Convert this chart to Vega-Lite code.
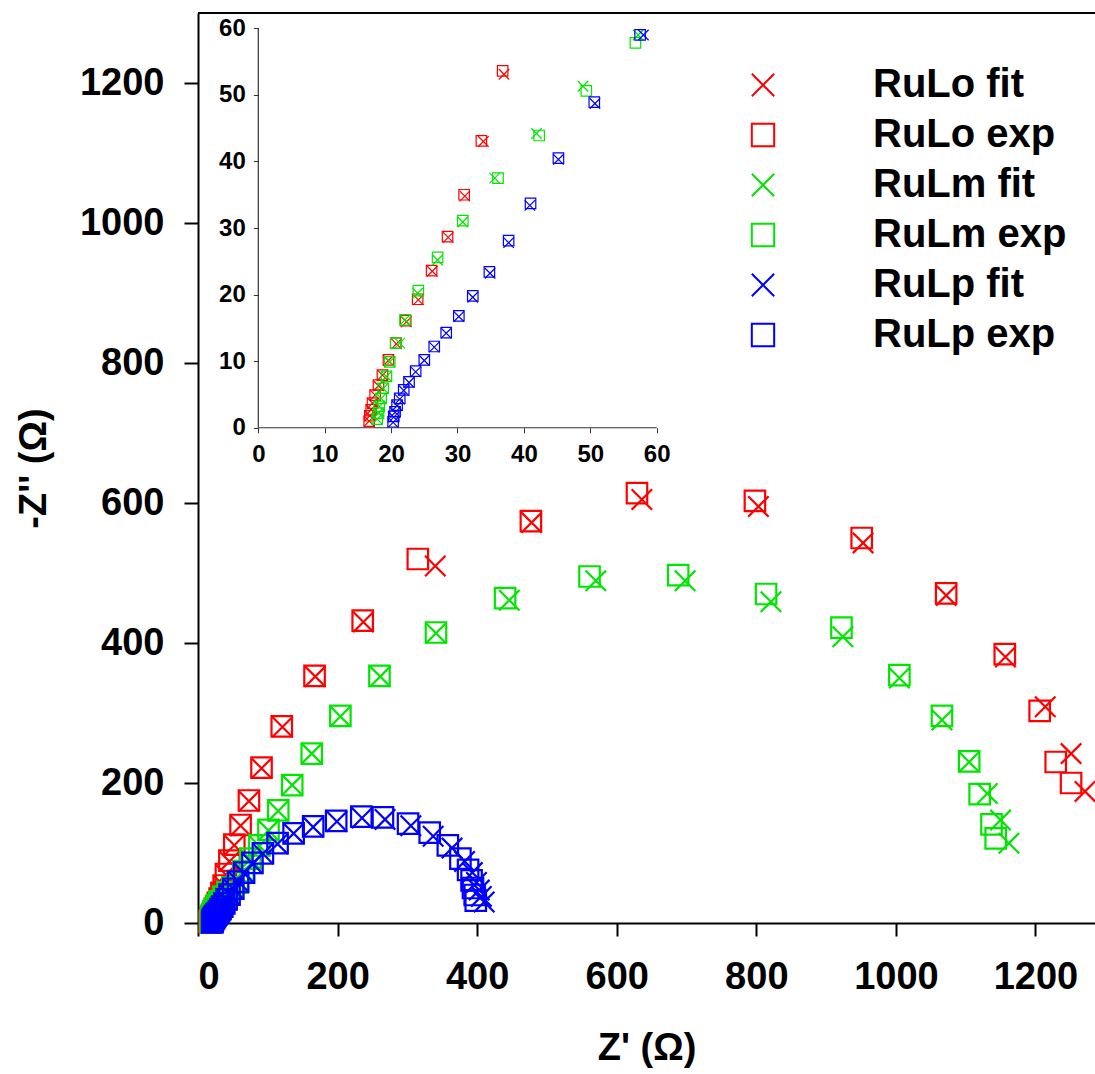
{
  "$schema": "https://vega.github.io/schema/vega-lite/v6.json",
  "autosize": {"type": "none"},
  "padding": {"left": 198, "top": 13, "right": 0, "bottom": 151},
  "width": 897,
  "height": 910,
  "background": "white",
  "config": {
    "font": "Liberation Sans",
    "view": {"stroke": null},
    "axis": {"grid": false, "labelFont": "Liberation Sans", "titleFont": "Liberation Sans", "labelColor": "black", "titleColor": "black"}
  },
  "datasets": {
    "pts": [
      {"series": "RuLo exp", "zr": 1251, "zi": 200}, {"series": "RuLo exp", "zr": 1229, "zi": 230}, {"series": "RuLo exp", "zr": 1206, "zi": 303}, {"series": "RuLo exp", "zr": 1156, "zi": 384}, {"series": "RuLo exp", "zr": 1072, "zi": 471}, {"series": "RuLo exp", "zr": 951, "zi": 550}, {"series": "RuLo exp", "zr": 798, "zi": 603}, {"series": "RuLo exp", "zr": 629, "zi": 614}, {"series": "RuLo exp", "zr": 477, "zi": 574}, {"series": "RuLo exp", "zr": 315, "zi": 520}, {"series": "RuLo exp", "zr": 236, "zi": 432}, {"series": "RuLo exp", "zr": 167, "zi": 353}, {"series": "RuLo exp", "zr": 120, "zi": 281}, {"series": "RuLo exp", "zr": 91, "zi": 222}, {"series": "RuLo exp", "zr": 73, "zi": 175}, {"series": "RuLo exp", "zr": 61, "zi": 140}, {"series": "RuLo exp", "zr": 52, "zi": 112}, {"series": "RuLo exp", "zr": 45, "zi": 89}, {"series": "RuLo exp", "zr": 40, "zi": 70},
      {"series": "RuLo exp", "zr": 36.8, "zi": 53.6}, {"series": "RuLo exp", "zr": 33.6, "zi": 43.1}, {"series": "RuLo exp", "zr": 31.0, "zi": 35.0}, {"series": "RuLo exp", "zr": 28.5, "zi": 28.7}, {"series": "RuLo exp", "zr": 26.1, "zi": 23.6}, {"series": "RuLo exp", "zr": 24.0, "zi": 19.3}, {"series": "RuLo exp", "zr": 22.2, "zi": 16.1}, {"series": "RuLo exp", "zr": 20.7, "zi": 12.7}, {"series": "RuLo exp", "zr": 19.6, "zi": 10.2}, {"series": "RuLo exp", "zr": 18.7, "zi": 7.9}, {"series": "RuLo exp", "zr": 18.1, "zi": 6.4}, {"series": "RuLo exp", "zr": 17.6, "zi": 4.9}, {"series": "RuLo exp", "zr": 17.2, "zi": 3.7}, {"series": "RuLo exp", "zr": 17.0, "zi": 2.7}, {"series": "RuLo exp", "zr": 16.8, "zi": 1.8}, {"series": "RuLo exp", "zr": 16.7, "zi": 1.0},

      {"series": "RuLo fit", "zr": 1271, "zi": 188}, {"series": "RuLo fit", "zr": 1251, "zi": 242}, {"series": "RuLo fit", "zr": 1214, "zi": 309}, {"series": "RuLo fit", "zr": 1157, "zi": 380}, {"series": "RuLo fit", "zr": 1072, "zi": 468}, {"series": "RuLo fit", "zr": 953, "zi": 543}, {"series": "RuLo fit", "zr": 803, "zi": 595}, {"series": "RuLo fit", "zr": 636, "zi": 605}, {"series": "RuLo fit", "zr": 478, "zi": 572}, {"series": "RuLo fit", "zr": 340, "zi": 510}, {"series": "RuLo fit", "zr": 237, "zi": 430}, {"series": "RuLo fit", "zr": 168, "zi": 352}, {"series": "RuLo fit", "zr": 121, "zi": 280}, {"series": "RuLo fit", "zr": 91, "zi": 221}, {"series": "RuLo fit", "zr": 73, "zi": 174}, {"series": "RuLo fit", "zr": 61, "zi": 139}, {"series": "RuLo fit", "zr": 52, "zi": 111}, {"series": "RuLo fit", "zr": 45, "zi": 88}, {"series": "RuLo fit", "zr": 40, "zi": 69},
      {"series": "RuLo fit", "zr": 37.0, "zi": 53.1}, {"series": "RuLo fit", "zr": 33.9, "zi": 43.0}, {"series": "RuLo fit", "zr": 31.1, "zi": 34.8}, {"series": "RuLo fit", "zr": 28.6, "zi": 28.6}, {"series": "RuLo fit", "zr": 26.2, "zi": 23.5}, {"series": "RuLo fit", "zr": 24.1, "zi": 19.2}, {"series": "RuLo fit", "zr": 22.3, "zi": 15.9}, {"series": "RuLo fit", "zr": 20.8, "zi": 12.6}, {"series": "RuLo fit", "zr": 19.6, "zi": 10.1}, {"series": "RuLo fit", "zr": 18.7, "zi": 7.9}, {"series": "RuLo fit", "zr": 18.1, "zi": 6.3}, {"series": "RuLo fit", "zr": 17.6, "zi": 4.9}, {"series": "RuLo fit", "zr": 17.2, "zi": 3.7}, {"series": "RuLo fit", "zr": 17.0, "zi": 2.7}, {"series": "RuLo fit", "zr": 16.8, "zi": 1.8}, {"series": "RuLo fit", "zr": 16.7, "zi": 1.0},

      {"series": "RuLm exp", "zr": 1143, "zi": 121}, {"series": "RuLm exp", "zr": 1137, "zi": 141}, {"series": "RuLm exp", "zr": 1120, "zi": 184}, {"series": "RuLm exp", "zr": 1105, "zi": 231}, {"series": "RuLm exp", "zr": 1066, "zi": 296}, {"series": "RuLm exp", "zr": 1005, "zi": 354}, {"series": "RuLm exp", "zr": 922, "zi": 422}, {"series": "RuLm exp", "zr": 814, "zi": 470}, {"series": "RuLm exp", "zr": 688, "zi": 497}, {"series": "RuLm exp", "zr": 561, "zi": 495}, {"series": "RuLm exp", "zr": 440, "zi": 464}, {"series": "RuLm exp", "zr": 341, "zi": 415}, {"series": "RuLm exp", "zr": 260, "zi": 353}, {"series": "RuLm exp", "zr": 204, "zi": 296}, {"series": "RuLm exp", "zr": 163, "zi": 242}, {"series": "RuLm exp", "zr": 135, "zi": 197}, {"series": "RuLm exp", "zr": 115, "zi": 161}, {"series": "RuLm exp", "zr": 101, "zi": 133}, {"series": "RuLm exp", "zr": 88, "zi": 111}, {"series": "RuLm exp", "zr": 75, "zi": 92}, {"series": "RuLm exp", "zr": 65, "zi": 74},
      {"series": "RuLm exp", "zr": 56.8, "zi": 57.8}, {"series": "RuLm exp", "zr": 49.4, "zi": 50.6}, {"series": "RuLm exp", "zr": 42.3, "zi": 43.9}, {"series": "RuLm exp", "zr": 36.1, "zi": 37.5}, {"series": "RuLm exp", "zr": 30.8, "zi": 31.1}, {"series": "RuLm exp", "zr": 27.0, "zi": 25.6}, {"series": "RuLm exp", "zr": 24.1, "zi": 20.6}, {"series": "RuLm exp", "zr": 22.1, "zi": 16.2}, {"series": "RuLm exp", "zr": 20.7, "zi": 12.7}, {"series": "RuLm exp", "zr": 19.8, "zi": 9.9}, {"series": "RuLm exp", "zr": 19.3, "zi": 7.7}, {"series": "RuLm exp", "zr": 18.8, "zi": 5.9}, {"series": "RuLm exp", "zr": 18.5, "zi": 4.4}, {"series": "RuLm exp", "zr": 18.2, "zi": 3.2}, {"series": "RuLm exp", "zr": 18.1, "zi": 2.2}, {"series": "RuLm exp", "zr": 17.9, "zi": 1.3},

      {"series": "RuLm fit", "zr": 1162, "zi": 114}, {"series": "RuLm fit", "zr": 1150, "zi": 147}, {"series": "RuLm fit", "zr": 1131, "zi": 185}, {"series": "RuLm fit", "zr": 1105, "zi": 230}, {"series": "RuLm fit", "zr": 1066, "zi": 290}, {"series": "RuLm fit", "zr": 1005, "zi": 350}, {"series": "RuLm fit", "zr": 924, "zi": 409}, {"series": "RuLm fit", "zr": 821, "zi": 459}, {"series": "RuLm fit", "zr": 698, "zi": 489}, {"series": "RuLm fit", "zr": 570, "zi": 489}, {"series": "RuLm fit", "zr": 446, "zi": 461}, {"series": "RuLm fit", "zr": 341, "zi": 414}, {"series": "RuLm fit", "zr": 261, "zi": 352}, {"series": "RuLm fit", "zr": 204, "zi": 295}, {"series": "RuLm fit", "zr": 163, "zi": 242}, {"series": "RuLm fit", "zr": 135, "zi": 197}, {"series": "RuLm fit", "zr": 115, "zi": 160}, {"series": "RuLm fit", "zr": 101, "zi": 132}, {"series": "RuLm fit", "zr": 88, "zi": 110}, {"series": "RuLm fit", "zr": 75, "zi": 91}, {"series": "RuLm fit", "zr": 65, "zi": 74},
      {"series": "RuLm fit", "zr": 57.2, "zi": 59.0}, {"series": "RuLm fit", "zr": 48.9, "zi": 51.3}, {"series": "RuLm fit", "zr": 41.9, "zi": 44.2}, {"series": "RuLm fit", "zr": 35.6, "zi": 37.5}, {"series": "RuLm fit", "zr": 30.8, "zi": 30.9}, {"series": "RuLm fit", "zr": 27.0, "zi": 25.2}, {"series": "RuLm fit", "zr": 24.0, "zi": 20.2}, {"series": "RuLm fit", "zr": 22.1, "zi": 16.2}, {"series": "RuLm fit", "zr": 21.3, "zi": 12.7}, {"series": "RuLm fit", "zr": 19.8, "zi": 9.9}, {"series": "RuLm fit", "zr": 19.3, "zi": 7.7}, {"series": "RuLm fit", "zr": 18.8, "zi": 5.9}, {"series": "RuLm fit", "zr": 18.5, "zi": 4.4}, {"series": "RuLm fit", "zr": 18.2, "zi": 3.2}, {"series": "RuLm fit", "zr": 18.1, "zi": 2.2}, {"series": "RuLm fit", "zr": 17.9, "zi": 1.3},

      {"series": "RuLp exp", "zr": 398, "zi": 32}, {"series": "RuLp exp", "zr": 396.5, "zi": 40}, {"series": "RuLp exp", "zr": 394, "zi": 50}, {"series": "RuLp exp", "zr": 392, "zi": 61}, {"series": "RuLp exp", "zr": 387, "zi": 76}, {"series": "RuLp exp", "zr": 376, "zi": 92}, {"series": "RuLp exp", "zr": 358, "zi": 111}, {"series": "RuLp exp", "zr": 332, "zi": 129}, {"series": "RuLp exp", "zr": 301, "zi": 142}, {"series": "RuLp exp", "zr": 265, "zi": 151}, {"series": "RuLp exp", "zr": 234, "zi": 152}, {"series": "RuLp exp", "zr": 198, "zi": 146}, {"series": "RuLp exp", "zr": 165, "zi": 138}, {"series": "RuLp exp", "zr": 137, "zi": 128}, {"series": "RuLp exp", "zr": 114, "zi": 114}, {"series": "RuLp exp", "zr": 93, "zi": 99.6}, {"series": "RuLp exp", "zr": 78, "zi": 86}, {"series": "RuLp exp", "zr": 66, "zi": 72},
      {"series": "RuLp exp", "zr": 57.5, "zi": 59.0}, {"series": "RuLp exp", "zr": 50.6, "zi": 48.9}, {"series": "RuLp exp", "zr": 45.2, "zi": 40.5}, {"series": "RuLp exp", "zr": 41.0, "zi": 33.7}, {"series": "RuLp exp", "zr": 37.7, "zi": 28.1}, {"series": "RuLp exp", "zr": 34.8, "zi": 23.4}, {"series": "RuLp exp", "zr": 32.3, "zi": 19.8}, {"series": "RuLp exp", "zr": 30.2, "zi": 16.8}, {"series": "RuLp exp", "zr": 28.3, "zi": 14.3}, {"series": "RuLp exp", "zr": 26.5, "zi": 12.2}, {"series": "RuLp exp", "zr": 25.0, "zi": 10.2}, {"series": "RuLp exp", "zr": 23.7, "zi": 8.5}, {"series": "RuLp exp", "zr": 22.7, "zi": 6.9}, {"series": "RuLp exp", "zr": 21.9, "zi": 5.7}, {"series": "RuLp exp", "zr": 21.3, "zi": 4.4}, {"series": "RuLp exp", "zr": 20.9, "zi": 3.4}, {"series": "RuLp exp", "zr": 20.6, "zi": 2.4}, {"series": "RuLp exp", "zr": 20.4, "zi": 1.7}, {"series": "RuLp exp", "zr": 20.3, "zi": 0.9},

      {"series": "RuLp fit", "zr": 410, "zi": 30}, {"series": "RuLp fit", "zr": 406, "zi": 38}, {"series": "RuLp fit", "zr": 403, "zi": 47}, {"series": "RuLp fit", "zr": 399, "zi": 58}, {"series": "RuLp fit", "zr": 393, "zi": 72}, {"series": "RuLp fit", "zr": 382, "zi": 88}, {"series": "RuLp fit", "zr": 364, "zi": 107}, {"series": "RuLp fit", "zr": 337, "zi": 124}, {"series": "RuLp fit", "zr": 305, "zi": 139}, {"series": "RuLp fit", "zr": 268, "zi": 148}, {"series": "RuLp fit", "zr": 235, "zi": 150}, {"series": "RuLp fit", "zr": 199, "zi": 145}, {"series": "RuLp fit", "zr": 165, "zi": 137}, {"series": "RuLp fit", "zr": 137, "zi": 128}, {"series": "RuLp fit", "zr": 114, "zi": 113}, {"series": "RuLp fit", "zr": 93, "zi": 99}, {"series": "RuLp fit", "zr": 78, "zi": 85}, {"series": "RuLp fit", "zr": 66, "zi": 71},
      {"series": "RuLp fit", "zr": 58.0, "zi": 59.0}, {"series": "RuLp fit", "zr": 50.7, "zi": 48.7}, {"series": "RuLp fit", "zr": 45.2, "zi": 40.3}, {"series": "RuLp fit", "zr": 40.9, "zi": 33.4}, {"series": "RuLp fit", "zr": 37.7, "zi": 27.8}, {"series": "RuLp fit", "zr": 34.9, "zi": 23.2}, {"series": "RuLp fit", "zr": 32.3, "zi": 19.6}, {"series": "RuLp fit", "zr": 30.2, "zi": 16.7}, {"series": "RuLp fit", "zr": 28.3, "zi": 14.2}, {"series": "RuLp fit", "zr": 26.5, "zi": 12.1}, {"series": "RuLp fit", "zr": 25.0, "zi": 10.1}, {"series": "RuLp fit", "zr": 23.7, "zi": 8.4}, {"series": "RuLp fit", "zr": 22.7, "zi": 6.8}, {"series": "RuLp fit", "zr": 21.9, "zi": 5.6}, {"series": "RuLp fit", "zr": 21.3, "zi": 4.3}, {"series": "RuLp fit", "zr": 20.9, "zi": 3.3}, {"series": "RuLp fit", "zr": 20.6, "zi": 2.3}, {"series": "RuLp fit", "zr": 20.4, "zi": 1.6}, {"series": "RuLp fit", "zr": 20.3, "zi": 0.8}
    ]
  },
  "layer": [
    {
      "layer": [
        {
          "data": {"name": "pts"},
          "mark": {"type": "point", "filled": false, "strokeWidth": 2.2, "size": 420, "opacity": 1},
          "encoding": {
            "x": {"field": "zr", "type": "quantitative", "scale": {"domain": [0, 1285.3], "nice": false, "zero": false},
              "axis": {"orient": "bottom", "values": [0, 200, 400, 600, 800, 1000, 1200], "format": "d", "title": "Z' (Ω)", "labelFontSize": 38, "labelFontWeight": "bold", "titleFontSize": 38, "titleFontWeight": "bold", "tickSize": 13, "tickWidth": 2, "tickColor": "black", "domainColor": "black", "domainWidth": 2, "labelPadding": 22, "titlePadding": 33}},
            "y": {"field": "zi", "type": "quantitative", "scale": {"domain": [0, 1300], "nice": false, "zero": false},
              "axis": {"orient": "left", "values": [0, 200, 400, 600, 800, 1000, 1200], "format": "d", "title": "-Z'' (Ω)", "labelFontSize": 38, "labelFontWeight": "bold", "titleFontSize": 38, "titleFontWeight": "bold", "tickSize": 14, "tickWidth": 2, "tickColor": "black", "domainColor": "black", "domainWidth": 2, "labelPadding": 20, "titlePadding": 26}},
            "color": {"field": "series", "type": "nominal",
              "scale": {"domain": ["RuLo fit", "RuLo exp", "RuLm fit", "RuLm exp", "RuLp fit", "RuLp exp"], "range": ["#ff0000", "#ff0000", "#00e600", "#00e600", "#0000ff", "#0000ff"]},
              "legend": {"orient": "none", "legendX": 545, "legendY": 52, "title": null, "padding": 0, "symbolSize": 500, "symbolStrokeWidth": 2, "labelFontSize": 40, "labelFont": "Liberation Sans", "labelFontWeight": "bold", "labelColor": "black", "labelOffset": 90, "rowPadding": 10, "labelLimit": 400}},
            "shape": {"field": "series", "type": "nominal",
              "scale": {"domain": ["RuLo fit", "RuLo exp", "RuLm fit", "RuLm exp", "RuLp fit", "RuLp exp"], "range": ["M-1,-1L1,1M-1,1L1,-1", "square", "M-1,-1L1,1M-1,1L1,-1", "square", "M-1,-1L1,1M-1,1L1,-1", "square"]},
              "legend": {"orient": "none", "legendX": 545, "legendY": 52, "title": null, "padding": 0, "symbolSize": 500, "symbolStrokeWidth": 2, "labelFontSize": 40, "labelFont": "Liberation Sans", "labelFontWeight": "bold", "labelColor": "black", "labelOffset": 90, "rowPadding": 10, "labelLimit": 400}}
          }
        },
        {
          "data": {"values": [{}]},
          "mark": {"type": "rule", "color": "black", "strokeWidth": 2},
          "encoding": {
            "y": {"datum": 1300, "type": "quantitative"},
            "x": {"datum": 0, "type": "quantitative"},
            "x2": {"datum": 1285.3}
          }
        }
      ]
    },
    {
      "layer": [
        {
          "data": {"name": "pts"},
          "transform": [{"filter": "datum.zr <= 60 && datum.zi <= 60"}],
          "mark": {"type": "point", "filled": false, "strokeWidth": 1.2, "size": 110, "opacity": 1},
          "encoding": {
            "x": {"field": "zr", "type": "quantitative", "scale": {"domain": [-9.081, 126.01], "nice": false, "zero": false},
              "axis": {"orient": "bottom", "offset": -495.3, "values": [0, 10, 20, 30, 40, 50, 60], "title": null, "domain": false, "labelFontSize": 24, "labelFontWeight": "bold", "tickSize": 5, "tickWidth": 1, "tickColor": "#333333", "labelPadding": 10}},
            "y": {"field": "zi", "type": "quantitative", "scale": {"domain": [-74.40, 62.30], "nice": false, "zero": false},
              "axis": {"orient": "left", "offset": -60.3, "values": [0, 10, 20, 30, 40, 50, 60], "title": null, "domain": false, "labelFontSize": 24, "labelFontWeight": "bold", "tickSize": 5, "tickWidth": 1, "tickColor": "#333333", "labelPadding": 8}},
            "color": {"field": "series", "type": "nominal", "legend": null},
            "shape": {"field": "series", "type": "nominal", "legend": null}
          }
        },
        {
          "data": {"values": [{}]},
          "mark": {"type": "rule", "color": "#333333", "strokeWidth": 1.2},
          "encoding": {
            "x": {"datum": 0, "type": "quantitative"},
            "y": {"datum": 0, "type": "quantitative"},
            "y2": {"datum": 60}
          }
        },
        {
          "data": {"values": [{}]},
          "mark": {"type": "rule", "color": "#333333", "strokeWidth": 1.2},
          "encoding": {
            "x": {"datum": 0, "type": "quantitative"},
            "x2": {"datum": 60},
            "y": {"datum": 0, "type": "quantitative"}
          }
        }
      ]
    }
  ],
  "resolve": {"scale": {"x": "independent", "y": "independent"}, "axis": {"x": "independent", "y": "independent"}}
}
